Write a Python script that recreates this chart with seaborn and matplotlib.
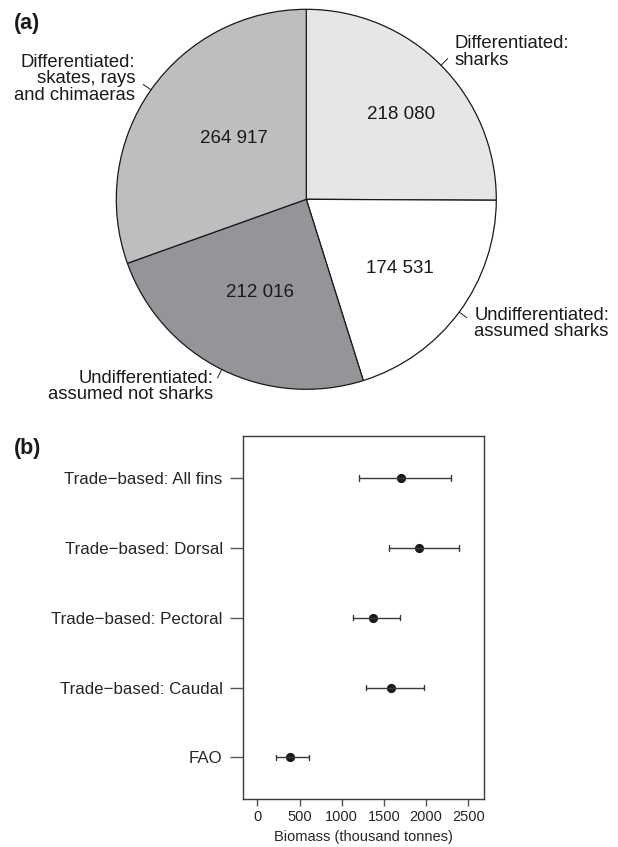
import numpy as np
import pandas as pd
import matplotlib
matplotlib.use('Agg')
import matplotlib.pyplot as plt
import seaborn as sns

# panel (a): landed catch composition
pie_labels = ['Differentiated:\nsharks',
              'Undifferentiated:\nassumed sharks',
              'Undifferentiated:\nassumed not sharks',
              'Differentiated:\nskates, rays\nand chimaeras']
pie_values = [218080, 174531, 212016, 264917]
pie_colors = ['#e6e6e8', '#ffffff', '#939598', '#bdbec0']

# panel (b): biomass estimates (thousand tonnes)
methods = ['Trade\u2212based: All fins', 'Trade\u2212based: Dorsal',
           'Trade\u2212based: Pectoral', 'Trade\u2212based: Caudal', 'FAO']
est_mid = [1702, 1910, 1372, 1585, 393]
est_low = [1210, 1555, 1128, 1292, 220]
est_high = [2290, 2385, 1685, 1974, 607]

sns.set_theme(style='white')
plt.rcParams['font.family'] = ['Liberation Sans', 'DejaVu Sans']
plt.rcParams['text.color'] = '#1a1a1a'

W, H = 618, 847
fig = plt.figure(figsize=(W / 100, H / 100), dpi=100)

# ---- (a) pie ----
cx, cy, r = 306.3, 199.3, 190
ax1 = fig.add_axes([(cx - r) / W, 1 - (cy + r) / H, 2 * r / W, 2 * r / H])
wedges, texts = ax1.pie(pie_values, labels=pie_labels, colors=pie_colors,
                        startangle=90, counterclock=False, labeldistance=1.1,
                        wedgeprops=dict(edgecolor='#1a1a1a', linewidth=0.9),
                        textprops=dict(fontsize=13.3, linespacing=0.95))
ax1.set_xlim(-1, 1)
ax1.set_ylim(-1, 1)
ax1.set_aspect('auto')
ax1.axis('off')

num_r = [0.67, 0.61, 0.55, 0.50]
num_shift = [-3, 0, 0, -5]
for w, v, rr, sh in zip(wedges, pie_values, num_r, num_shift):
    mid = np.deg2rad((w.theta1 + w.theta2) / 2)
    ax1.plot([np.cos(mid), 1.05 * np.cos(mid)], [np.sin(mid), 1.05 * np.sin(mid)],
             color='#1a1a1a', lw=0.7, clip_on=False)
    mid = mid + np.deg2rad(sh)
    ax1.text(rr * np.cos(mid), rr * np.sin(mid), f'{v:,}'.replace(',', ' '),
             ha='center', va='center', fontsize=13.5)

fig.text(14 / W, 1 - 24 / H, '(a)', fontsize=15.5, fontweight='bold', va='center')

# ---- (b) point estimates with intervals ----
df = pd.DataFrame({
    'method': np.repeat(methods, 3),
    'biomass': np.ravel(np.column_stack([est_low, est_mid, est_high])),
})
ax2 = fig.add_axes([242.7 / W, 1 - 799.3 / H, (483.5 - 242.7) / W, (799.3 - 436) / H])
sns.pointplot(data=df, x='biomass', y='method', order=methods, ax=ax2,
              estimator='median', errorbar=lambda v: (v.min(), v.max()),
              color='#1a1a1a', linestyle='none', markers='o', markersize=4.6,
              capsize=0.08, err_kws={'linewidth': 1.0, 'color': '#3a3a3a'})
ax2.set_xlim(-173, 2680)
ax2.set_ylim(4.6, -0.6)
ax2.set_xticks([0, 500, 1000, 1500, 2000, 2500])
ax2.set_ylabel('')
ax2.set_xlabel('Biomass (thousand tonnes)', fontsize=10.5, labelpad=4)
for s in ax2.spines.values():
    s.set_color('#3a3a3a')
    s.set_linewidth(1.0)
ax2.tick_params(axis='y', length=9.6, width=1.0, color='#555555', pad=4.8,
                labelsize=12.2, left=True)
ax2.tick_params(axis='x', length=5, width=1.0, color='#555555', pad=3,
                labelsize=10.5, bottom=True)

fig.text(14 / W, 1 - 448 / H, '(b)', fontsize=15.5, fontweight='bold', va='center')

fig.savefig('out.png', dpi=100)
